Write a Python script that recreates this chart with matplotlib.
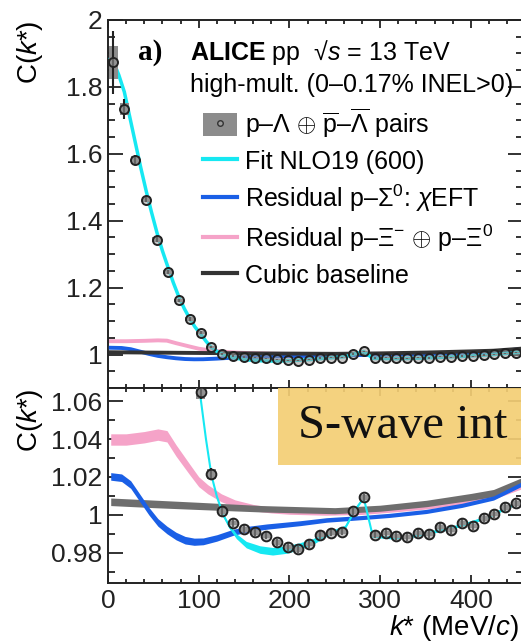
import numpy as np
import matplotlib.pyplot as plt
from matplotlib.patches import Rectangle, Patch
from matplotlib.lines import Line2D
from matplotlib.ticker import MultipleLocator, FuncFormatter

plt.rcParams['font.family'] = ['Liberation Sans', 'DejaVu Sans']
plt.rcParams['mathtext.fontset'] = 'custom'
plt.rcParams['mathtext.rm'] = 'Liberation Sans'
plt.rcParams['mathtext.it'] = 'Liberation Sans:italic'
plt.rcParams['mathtext.bf'] = 'Liberation Sans:bold'

# p-Lambda correlation data (k* in MeV/c)
k_data = [6, 18, 30, 42, 54, 66, 78, 90, 102, 114, 126, 138, 150, 162, 174, 186, 198,
          210, 222, 234, 246, 258, 270, 282, 294, 306, 318, 330, 342, 354, 366, 378,
          390, 402, 414, 426, 438, 450]
c_data = [1.873, 1.733, 1.582, 1.463, 1.343, 1.246, 1.162, 1.106, 1.065, 1.0216, 1.0018,
          0.9958, 0.9924, 0.9908, 0.9890, 0.9855, 0.9830, 0.9818, 0.9846, 0.9895, 0.9906,
          0.9911, 1.0018, 1.0092, 0.9896, 0.9903, 0.9889, 0.9882, 0.9903, 0.9899, 0.9935,
          0.9920, 0.9956, 0.9942, 0.9982, 1.0004, 1.0040, 1.0060]
stat_err = [0.095, 0.03, 0.015, 0.008, 0.007, 0.006, 0.005, 0.005, 0.004, 0.003, 0.0025,
            0.002, 0.002, 0.002, 0.002, 0.002, 0.002, 0.002, 0.002, 0.002, 0.002, 0.002,
            0.002, 0.002, 0.002, 0.002, 0.002, 0.002, 0.002, 0.002, 0.002, 0.002, 0.002,
            0.002, 0.002, 0.002, 0.002, 0.002]
sys_err = [0.05, 0.018, 0.012, 0.008, 0.007, 0.006, 0.005, 0.005, 0.004, 0.0025, 0.0015,
           0.0012, 0.0012, 0.0012, 0.0012, 0.0012, 0.0012, 0.0012, 0.0012, 0.0012, 0.0012,
           0.0012, 0.0012, 0.0012, 0.0012, 0.0012, 0.0012, 0.0012, 0.0012, 0.0012, 0.0012,
           0.0012, 0.0012, 0.0012, 0.0012, 0.0012, 0.0012, 0.0012]

# Fit NLO19 (600)
fit_k = [3, 6, 12, 18, 24, 30, 36, 42, 48, 54, 60, 66, 72, 78, 84, 90, 96, 102, 108, 114,
         120, 127, 134, 142, 153, 168, 182, 197, 212, 227, 241, 252, 262, 270, 276, 282,
         292, 300, 315, 330, 345, 360, 375, 390, 405, 420, 435, 457]
fit_c = [1.885, 1.875, 1.835, 1.785, 1.71, 1.635, 1.56, 1.49, 1.425, 1.364, 1.31, 1.262,
         1.215, 1.173, 1.138, 1.108, 1.082, 1.062, 1.040, 1.021, 1.0097, 1.000, 0.9938,
         0.9885, 0.984, 0.9814, 0.9805, 0.9814, 0.9832, 0.9858, 0.9894, 0.9915, 0.9935,
         1.0005, 1.005, 1.0088, 0.9885, 0.9883, 0.9877, 0.9882, 0.9895, 0.991, 0.9925,
         0.9944, 0.9965, 0.999, 1.0025, 1.0075]
fit_w = [0.001, 0.001, 0.001, 0.001, 0.001, 0.001, 0.001, 0.001, 0.001, 0.001, 0.001,
         0.001, 0.001, 0.001, 0.001, 0.001, 0.001, 0.0008, 0.0007, 0.0007, 0.0007, 0.0008,
         0.001, 0.0013, 0.0017, 0.002, 0.002, 0.002, 0.0018, 0.0015, 0.0012, 0.001, 0.0008,
         0.0007, 0.0007, 0.0007, 0.0007, 0.0007, 0.0008, 0.0008, 0.0008, 0.0008, 0.0008,
         0.0008, 0.0008, 0.0008, 0.0008, 0.0008]

# Residual p-Sigma0 (chiEFT)
sig_k = [3, 15, 25, 35, 45, 55, 65, 75, 85, 95, 105, 120, 138, 155, 175, 212, 241, 278,
         310, 351, 390, 425, 457]
sig_c = [1.0203, 1.0196, 1.016, 1.009, 1.002, 0.996, 0.992, 0.9888, 0.9866, 0.9858, 0.986,
         0.9878, 0.9908, 0.9925, 0.9938, 0.9956, 0.9973, 0.9985, 0.9997, 1.0018, 1.005,
         1.0089, 1.0165]
sig_w = [0.002, 0.002, 0.002, 0.002, 0.002, 0.002, 0.002, 0.002, 0.002, 0.0019,
         0.0018, 0.0017, 0.0016, 0.0015, 0.0014, 0.0013, 0.0012, 0.0011, 0.0011, 0.0011,
         0.0011, 0.0011, 0.0012]

# Residual p-Xi
xi_k = [3, 20, 40, 55, 65, 75, 90, 100, 110, 125, 140, 160, 180, 200, 240, 280, 320, 360,
        400, 430, 457]
xi_c = [1.0398, 1.0398, 1.041, 1.0424, 1.0415, 1.034, 1.024, 1.0175, 1.0135, 1.009, 1.006,
        1.0038, 1.0025, 1.0016, 1.001, 1.0013, 1.0027, 1.0045, 1.0072, 1.0102, 1.015]
xi_w = [0.003, 0.003, 0.003, 0.003, 0.003, 0.003, 0.0028, 0.0026, 0.0024, 0.0021, 0.0019,
        0.0017, 0.0015, 0.0013, 0.0012, 0.0011, 0.001, 0.001, 0.001, 0.001, 0.0011]

# Cubic baseline
bl_k = [3, 50, 101, 170, 250, 300, 351, 400, 425, 457]
bl_c = [1.0069, 1.0058, 1.0047, 1.0032, 1.0022, 1.0035, 1.0060, 1.0095, 1.0115, 1.0178]
bl_w = [0.002, 0.002, 0.0019, 0.0017, 0.0016, 0.0016, 0.0017, 0.0018, 0.0019, 0.002]

c_cyan = '#16E8F2'
c_blue = '#1A5FE6'
c_pink = '#F5A3C8'
c_black = '#333333'
c_gray = '#6E6E6E'

W, H = 521, 642
fig = plt.figure(figsize=(W / 100, H / 100), dpi=100)
left = 108 / W
right = 1.003
ax1 = fig.add_axes([left, 1 - 388 / H, right - left, (388 - 20) / H])
ax2 = fig.add_axes([left, 1 - 583 / H, right - left, (583 - 388) / H])

k_data = np.array(k_data)
c_data = np.array(c_data)
sys_err = np.array(sys_err)


def draw_data(ax, msize):
    ax.bar(k_data, 2 * sys_err, bottom=c_data - sys_err, width=10, color='#8C8C8C',
           zorder=5, linewidth=0)
    ax.errorbar(k_data, c_data, yerr=stat_err, fmt='o', ms=msize, mec='#222222',
                mfc=(0.6, 0.6, 0.6, 0.55), mew=1.4, ecolor='#222222', elinewidth=1.5,
                capsize=0, zorder=6)


# top panel: lines
ax1.plot(xi_k, xi_c, color=c_pink, lw=2.8, zorder=2)
ax1.plot(sig_k, sig_c, color=c_blue, lw=2.8, zorder=3)
ax1.plot(bl_k, bl_c, color=c_black, lw=2.8, zorder=3)
ax1.plot(fit_k, fit_c, color=c_cyan, lw=2.5, zorder=4)
draw_data(ax1, 6.5)

# bottom panel: bands
for kk, cc, ww, col, z in [(xi_k, xi_c, xi_w, c_pink, 2), (bl_k, bl_c, bl_w, c_gray, 2.5),
                           (sig_k, sig_c, sig_w, c_blue, 3), (fit_k, fit_c, fit_w, c_cyan, 4)]:
    cc = np.array(cc)
    ww = np.array(ww)
    ax2.fill_between(kk, cc - ww, cc + ww, color=col, lw=0, zorder=z)
ax2.plot(fit_k, fit_c, color=c_cyan, lw=1.5, zorder=4)
draw_data(ax2, 7)

ax1.set_xlim(0, 457)
ax2.set_xlim(0, 457)
ax1.set_ylim(0.9, 2.0)
ax2.set_ylim(0.964, 1.067)

fmt = FuncFormatter(lambda v, p: '%g' % round(v, 4))
for ax in (ax1, ax2):
    ax.xaxis.set_major_locator(MultipleLocator(100))
    ax.xaxis.set_minor_locator(MultipleLocator(20))
    ax.yaxis.set_major_formatter(fmt)
    ax.tick_params(which='both', direction='in', top=True, right=True, labelsize=19,
                   width=1.3, colors='#222222')
    ax.tick_params(axis='y', which='major', length=11, pad=4)
    ax.tick_params(axis='y', which='minor', length=5)
    ax.tick_params(axis='x', which='major', length=6)
    ax.tick_params(axis='x', which='minor', length=3)
    for s in ax.spines.values():
        s.set_linewidth(1.4)
        s.set_color('#222222')

ax1.yaxis.set_major_locator(MultipleLocator(0.2))
ax1.yaxis.set_minor_locator(MultipleLocator(0.05))
ax2.yaxis.set_major_locator(MultipleLocator(0.02))
ax2.yaxis.set_minor_locator(MultipleLocator(0.01))
ax1.tick_params(axis='x', labelbottom=False)
ax2.xaxis.set_major_formatter(FuncFormatter(lambda v, p: '%d' % v))
ax2.tick_params(axis='x', pad=4)

ax1.set_ylabel('C($k$*)', fontsize=20, loc='top')
ax2.set_ylabel('C($k$*)', fontsize=20, loc='top')
ax1.yaxis.set_label_coords(-0.152, 1.0)
ax2.yaxis.set_label_coords(-0.152, 1.0)
ax2.set_xlabel('$k$* (MeV/$c$)', fontsize=20, loc='right')
ax2.xaxis.set_label_coords(0.99, -0.152)

# annotations
ax1.text(0.072, 0.913, 'a)', transform=ax1.transAxes, fontsize=21, fontweight='bold',
         family='Liberation Serif', va='center', ha='left')
ax1.text(0.198, 0.913, r'$\mathbf{ALICE}$ pp  √$s$ = 13 TeV', transform=ax1.transAxes,
         fontsize=18, va='center', ha='left')
ax1.text(0.198, 0.823, 'high-mult. (0–0.17% INEL>0)', transform=ax1.transAxes,
         fontsize=18, va='center', ha='left')

h_data = (Patch(facecolor='#8C8C8C', edgecolor='none'),
          Line2D([], [], ls='none', marker='o', ms=4, mfc='#999999', mec='#333333', mew=1))
handles = [h_data,
           Line2D([], [], color=c_cyan, lw=3),
           Line2D([], [], color=c_blue, lw=3),
           Line2D([], [], color=c_pink, lw=3),
           Line2D([], [], color=c_black, lw=3)]
labels = [r'p–$\Lambda$ $\oplus$ $\overline{\mathrm{p}}$–$\overline{\Lambda}$ pairs',
          'Fit NLO19 (600)',
          r'Residual p–$\Sigma^0$: $\chi$EFT',
          r'Residual p–$\Xi^{-}$ $\oplus$ p–$\Xi^0$',
          'Cubic baseline']
ax1.legend(handles, labels, loc='upper left', bbox_to_anchor=(0.229, 0.765),
           frameon=False, fontsize=18, handlelength=1.36, handleheight=1.0,
           handletextpad=0.32, labelspacing=0.35, borderpad=0, borderaxespad=0)

# yellow overlay box
fig.patches.append(Rectangle((278 / W, 1 - 465 / H), (W - 278) / W, 77 / H,
                             transform=fig.transFigure, facecolor='#F4CE74',
                             edgecolor='none', alpha=0.92, zorder=10))
fig.text(298 / W, 1 - 426 / H, 'S-wave int', fontsize=35, family='Liberation Serif',
         va='center', ha='left', color='#111111', zorder=11)

fig.savefig('out.png', dpi=100)
